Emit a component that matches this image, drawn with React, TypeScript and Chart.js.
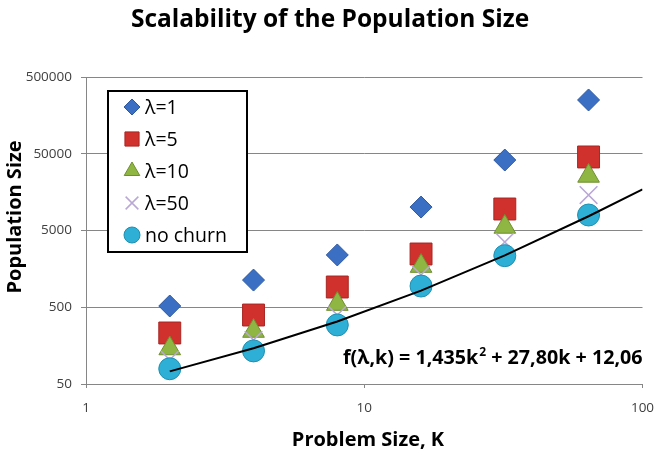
import React, { useEffect, useRef } from "react";
import { Chart, registerables } from "chart.js";

Chart.register(...registerables);

const problemSizes = [2, 4, 8, 16, 32, 64];
const lambda1 = [519, 1130, 2400, 10100, 41400, 251000];
const lambda5 = [231, 396, 918, 2470, 9530, 45400];
const lambda10 = [145, 245, 550, 1720, 5560, 25700];
const lambda50 = [103, 187, 396, 1320, 3540, 14500];
const noChurn = [79, 135, 294, 945, 2350, 7960];
const trendK = [2, 4, 8, 16, 32, 64, 100];
const trendValues = [73, 146, 326, 824, 2370, 7670, 17140];

const xTicks = [1, 10, 100];
const xTickLabels = ["1", "10", "100"];
const yTicks = [50, 500, 5000, 50000, 500000];

const titleText = "Scalability of the Population Size";
const xTitle = "Problem Size, K";
const yTitle = "Population Size";
const seriesNames = ["λ=1", "λ=5", "λ=10", "λ=50", "no churn"];
const eqParts = ["f(λ,k) = 1,435k", "2", " + 27,80k + 12,06"];

const FONT = "'Open Sans', 'DejaVu Sans', sans-serif";

const styles = [
  { shape: "rectRot", bg: "#3b6fc4", border: "#2f5aa0", r: 11 },
  { shape: "rect", bg: "#d1312c", border: "#a82623", r: 15.5 },
  { shape: "triangle", bg: "#8fb543", border: "#6f8f2e", r: 12.5 },
  { shape: "crossRot", bg: "#b9a7d6", border: "#b9a7d6", r: 12.5 },
  { shape: "circle", bg: "#2eb0d6", border: "#1f8fb0", r: 11 },
];

function drawMarker(ctx: CanvasRenderingContext2D, shape: string, x: number, y: number, r: number, bg: string, border: string) {
  ctx.save();
  ctx.fillStyle = bg;
  ctx.strokeStyle = border;
  ctx.lineWidth = 1;
  ctx.beginPath();
  if (shape === "rectRot") {
    ctx.moveTo(x, y - r); ctx.lineTo(x + r, y); ctx.lineTo(x, y + r); ctx.lineTo(x - r, y); ctx.closePath();
    ctx.fill(); ctx.stroke();
  } else if (shape === "rect") {
    const s = r * Math.SQRT1_2;
    ctx.rect(x - s, y - s, 2 * s, 2 * s); ctx.fill(); ctx.stroke();
  } else if (shape === "triangle") {
    for (let i = 0; i < 3; i++) {
      const a = (i * 2 * Math.PI) / 3;
      const px = x + Math.sin(a) * r, py = y - Math.cos(a) * r;
      if (i === 0) ctx.moveTo(px, py); else ctx.lineTo(px, py);
    }
    ctx.closePath(); ctx.fill(); ctx.stroke();
  } else if (shape === "crossRot") {
    const s = r * Math.SQRT1_2;
    ctx.lineWidth = 1.5;
    ctx.moveTo(x - s, y - s); ctx.lineTo(x + s, y + s);
    ctx.moveTo(x + s, y - s); ctx.lineTo(x - s, y + s);
    ctx.stroke();
  } else {
    ctx.arc(x, y, r, 0, Math.PI * 2); ctx.fill(); ctx.stroke();
  }
  ctx.restore();
}

const textPlugin = {
  id: "textPlugin",
  afterDraw(chart: any) {
    const ctx: CanvasRenderingContext2D = chart.ctx;
    ctx.save();
    ctx.fillStyle = "#000";
    // title
    ctx.font = `bold 24.5px ${FONT}`;
    ctx.textAlign = "center";
    ctx.textBaseline = "middle";
    ctx.fillText(titleText, 330, 20);
    // x tick labels, placed through the x scale
    ctx.font = `13.5px ${FONT}`;
    ctx.fillStyle = "#404040";
    const xs = chart.scales.x;
    xTicks.forEach((v, i) => {
      ctx.fillText(xTickLabels[i], xs.getPixelForValue(v), 408);
    });
    ctx.fillStyle = "#000";
    // x title
    ctx.font = `bold 20px ${FONT}`;
    ctx.fillText(xTitle, 368, 440);
    // y title
    ctx.save();
    ctx.translate(15, 217);
    ctx.rotate(-Math.PI / 2);
    ctx.fillText(yTitle, 0, 0);
    ctx.restore();
    // legend box
    ctx.lineWidth = 2;
    ctx.strokeStyle = "#000";
    ctx.fillStyle = "#fff";
    ctx.fillRect(108, 91, 139, 161);
    ctx.strokeRect(108, 91, 139, 161);
    const rows = [107, 139, 171, 203, 235];
    const legendR = [8, 10, 9, 9, 8];
    ctx.font = `19.5px ${FONT}`;
    ctx.textAlign = "left";
    for (let i = 0; i < seriesNames.length; i++) {
      const st = styles[i];
      drawMarker(ctx, st.shape, 132, rows[i], legendR[i], st.bg, st.border);
      ctx.fillStyle = "#000";
      ctx.fillText(seriesNames[i], 145, rows[i] + 1);
    }
    // equation
    ctx.font = `bold 19.7px ${FONT}`;
    ctx.textBaseline = "alphabetic";
    let x = 343;
    const base = 364;
    ctx.fillText(eqParts[0], x, base);
    x += ctx.measureText(eqParts[0]).width;
    ctx.font = `bold 12px ${FONT}`;
    ctx.fillText(eqParts[1], x + 1, base - 8);
    x += ctx.measureText(eqParts[1]).width + 1;
    ctx.font = `bold 19.7px ${FONT}`;
    ctx.fillText(eqParts[2], x, base);
    ctx.restore();
  },
};

export default function App() {
  const ref = useRef<HTMLCanvasElement | null>(null);
  useEffect(() => {
    if (!ref.current) return;
    const series = [lambda1, lambda5, lambda10, lambda50, noChurn];
    const datasets: any[] = series.map((vals, i) => ({
      label: seriesNames[i],
      data: problemSizes.map((k, j) => ({ x: k, y: vals[j] })),
      pointStyle: styles[i].shape,
      pointRadius: styles[i].r,
      pointHoverRadius: styles[i].r,
      backgroundColor: styles[i].bg,
      borderColor: styles[i].border,
      pointBorderWidth: i === 3 ? 1.5 : 1,
      showLine: false,
      order: 10 - i,
    }));
    datasets.push({
      label: "fit",
      data: trendK.map((k, j) => ({ x: k, y: trendValues[j] })),
      showLine: true,
      borderColor: "#000",
      borderWidth: 2,
      pointRadius: 0,
      fill: false,
      order: 0,
    });
    const chart = new Chart(ref.current, {
      type: "scatter",
      data: { datasets },
      plugins: [textPlugin],
      options: {
        animation: false,
        responsive: false,
        maintainAspectRatio: false,
        layout: { padding: { left: 0, right: 12, top: 77, bottom: 0 } },
        plugins: { legend: { display: false }, tooltip: { enabled: false }, title: { display: false } },
        scales: {
          x: {
            type: "logarithmic",
            min: 1,
            max: 100,
            afterBuildTicks: (s: any) => { s.ticks = xTicks.map((v) => ({ value: v })); },
            afterFit: (s: any) => { s.height = 76; },
            ticks: { display: false, autoSkip: false },
            grid: { drawOnChartArea: false, tickLength: 4, color: "#868686" },
            border: { color: "#868686", width: 1 },
          },
          y: {
            type: "logarithmic",
            min: 50,
            max: 500000,
            afterBuildTicks: (s: any) => { s.ticks = yTicks.map((v) => ({ value: v })); },
            afterFit: (s: any) => { s.width = 86; },
            ticks: {
              callback: (v: any) => String(v),
              font: { family: FONT, size: 13.5 },
              color: "#404040",
              padding: 9,
              autoSkip: false,
            },
            grid: { tickLength: 5, color: "#868686" },
            border: { color: "#868686", width: 1 },
          },
        },
      },
    });
    return () => chart.destroy();
  }, []);
  return (
    <div style={{ position: "fixed", left: 0, top: 0, width: 659, height: 460, background: "#fff", overflow: "hidden" }}>
      <canvas ref={ref} width={659} height={460} style={{ width: 659, height: 460, display: "block" }} />
    </div>
  );
}
